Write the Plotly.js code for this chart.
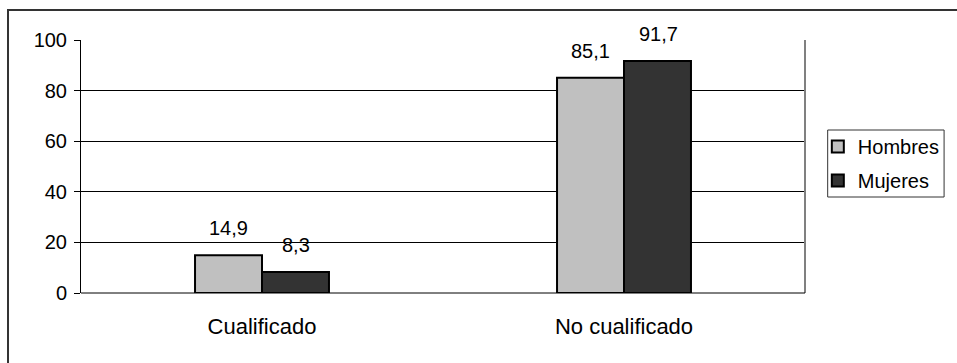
<!DOCTYPE html>
<html>
<head>
<meta charset="utf-8">
<script src="https://cdn.plot.ly/plotly-3.0.1.min.js"></script>
<style>html,body{margin:0;padding:0;background:#fff;}#chart{width:957px;height:363px;}</style>
</head>
<body>
<div id="chart"></div>
<script>
const categories = ["Cualificado", "No cualificado"];
const seriesNames = ["Hombres", "Mujeres"];
const hombres = [14.9, 85.1];
const mujeres = [8.3, 91.7];
const tickVals = [0, 20, 40, 60, 80, 100];
const colors = ["#C0C0C0", "#333333"];

const FONT = "Arial, 'Liberation Sans', sans-serif";
const seriesValues = [hombres, mujeres];

const traces = seriesValues.map((vals, i) => ({
  type: "bar",
  name: seriesNames[i],
  x: categories,
  y: vals,
  marker: { color: colors[i], line: { color: "#000", width: 2 } },
  legendgroup: seriesNames[i],
  hoverinfo: "skip"
}));

const annotations = [];
seriesValues.forEach((vals, i) => {
  vals.forEach((v, j) => {
    annotations.push({
      x: categories[j], y: v, xref: "x", yref: "y",
      text: v.toFixed(1).replace(".", ","),
      showarrow: false, yanchor: "bottom",
      xshift: i === 0 ? -34 : 34, yshift: 14,
      font: { family: FONT, size: 20, color: "#000" }
    });
  });
});

// plot area: x 81..815 px, y 40..293 px
const px = v => (v - 81) / 734;
const py = v => (293 - v) / 253;

const layout = {
  width: 957, height: 363,
  margin: { l: 81, r: 142, t: 40, b: 70 },
  paper_bgcolor: "#fff", plot_bgcolor: "#fff",
  barmode: "group", bargap: 0.63, bargroupgap: 0,
  font: { family: FONT, size: 20, color: "#000" },
  xaxis: {
    type: "category", showgrid: false, zeroline: false,
    showline: false, ticks: "", tickfont: { size: 22 }, ticklabelstandoff: 18
  },
  yaxis: {
    range: [0, 100], tickvals: tickVals, showgrid: true, gridcolor: "#000", gridwidth: 1,
    zeroline: false, showline: true, linecolor: "#000", linewidth: 1,
    ticks: "outside", ticklen: 6, tickcolor: "#000", tickfont: { size: 20 }, ticklabelstandoff: 3
  },
  legend: {
    x: px(828), xanchor: "left", y: py(127), yanchor: "top",
    borderwidth: 0, bgcolor: "rgba(0,0,0,0)",
    font: { family: FONT, size: 20 }, traceorder: "grouped", tracegroupgap: 5
  },
  annotations: annotations,
  shapes: [
    { type: "line", xref: "paper", yref: "paper", x0: 1, x1: 1, y0: 0, y1: 1, line: { color: "#808080", width: 2 } },
    { type: "line", xref: "paper", yref: "paper", x0: 0, x1: 1, y0: 0, y1: 0, line: { color: "#000", width: 1 } },
    { type: "rect", xref: "paper", yref: "paper", x0: px(838), x1: px(956), y0: py(197), y1: py(130), line: { color: "#333", width: 1 }, fillcolor: "#fff", layer: "below" },
    { type: "rect", xref: "paper", yref: "paper", x0: px(7), x1: 1.5, y0: -0.5, y1: py(10), line: { color: "#333", width: 2 }, layer: "below" }
  ],
  showlegend: true
};

Plotly.newPlot("chart", traces, layout, { displayModeBar: false, staticPlot: true });
</script>
</body>
</html>
